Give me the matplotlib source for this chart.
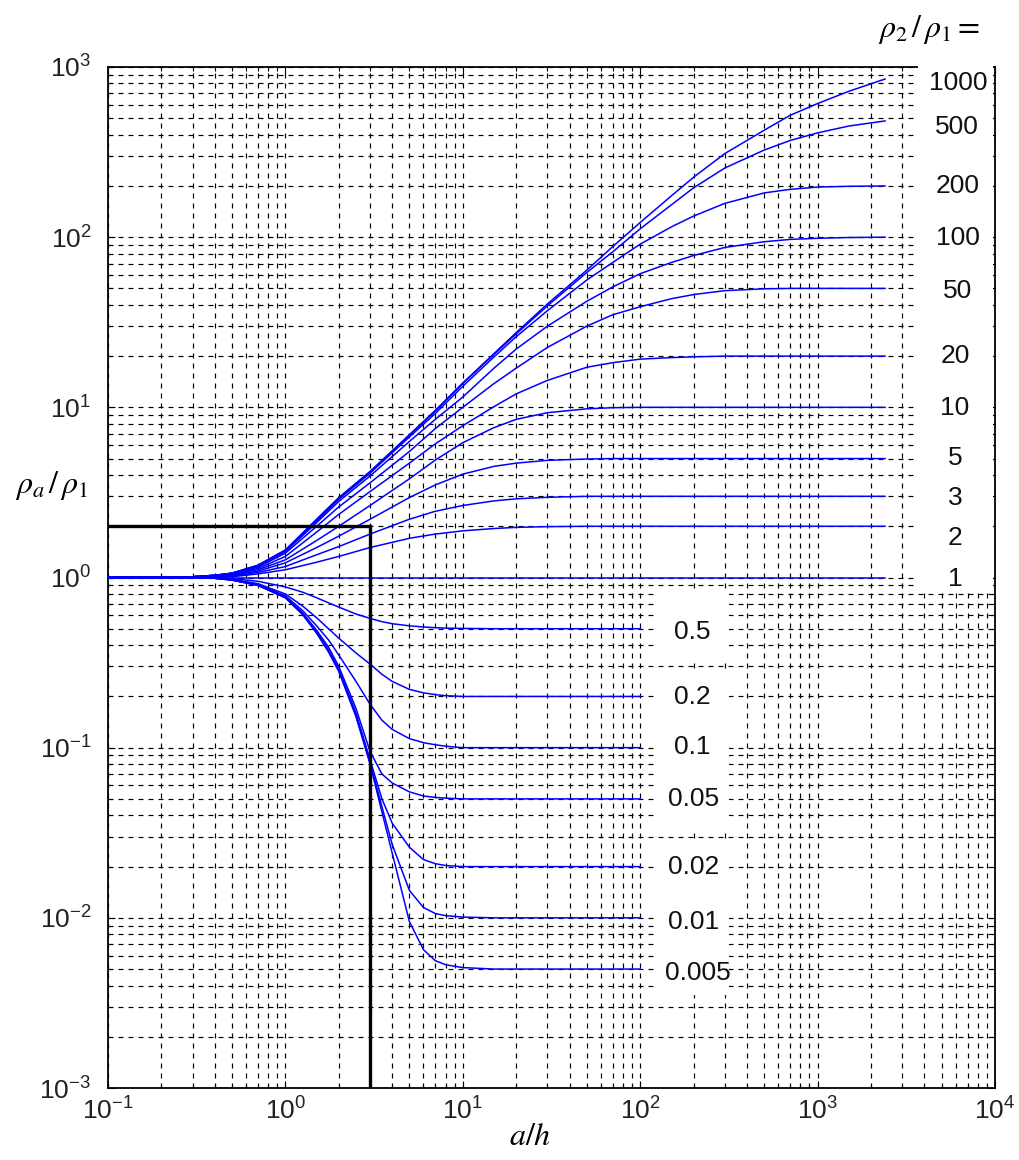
import matplotlib
matplotlib.use("Agg")
import matplotlib.pyplot as plt
from matplotlib.patches import Rectangle
from matplotlib.ticker import FixedLocator, NullFormatter

plt.rcParams['font.family'] = ['Liberation Sans', 'DejaVu Sans']
plt.rcParams['mathtext.fontset'] = 'custom'
plt.rcParams['mathtext.rm'] = 'Liberation Sans'
plt.rcParams['mathtext.it'] = 'Liberation Sans:italic'
plt.rcParams['lines.scale_dashes'] = False

# ---------------- data ----------------
# a/h values for curves with rho2/rho1 >= 1
x_high = [0.1, 0.2, 0.3, 0.4, 0.5, 0.7, 1, 1.5, 2, 3, 5, 7, 10, 15, 20, 30,
          50, 70, 100, 150, 200, 300, 500, 700, 1000, 1500, 2400]
ratios_high = [1000, 500, 200, 100, 50, 20, 10, 5, 3, 2, 1]
rho_1000 = [1, 1, 1.01, 1.03, 1.06, 1.18, 1.45, 2.2, 2.95, 4.2, 6.9, 9.6, 13.9, 20.7, 27.5, 40.5,
            64, 88, 122, 175, 225, 310, 425, 520, 610, 720, 850]
rho_500 = [1, 1, 1.01, 1.03, 1.06, 1.18, 1.45, 2.19, 2.93, 4.17, 6.85, 9.5, 13.8, 20.5, 27, 39.5,
           62, 82, 112, 155, 195, 255, 325, 370, 410, 450, 482]
rho_200 = [1, 1, 1.01, 1.03, 1.06, 1.17, 1.44, 2.15, 2.88, 4.1, 6.7, 9.2, 13.3, 19.8, 26, 37,
           56, 71, 91, 115, 133, 158, 182, 191, 197, 199, 200]
rho_100 = [1, 1, 1.01, 1.03, 1.06, 1.17, 1.42, 2.1, 2.8, 3.95, 6.3, 8.5, 11.5, 17, 22, 30,
           42, 51, 61, 71, 78, 87, 94, 97, 98.5, 99.5, 100]
rho_50 = [1, 1, 1.01, 1.03, 1.05, 1.15, 1.39, 2.0, 2.6, 3.6, 5.5, 7.5, 10, 13.8, 17, 22.5,
          30, 35, 39, 43.5, 46, 48.5, 49.7, 50, 50, 50, 50]
rho_20 = [1, 1, 1.01, 1.02, 1.05, 1.13, 1.33, 1.85, 2.35, 3.2, 4.7, 6.1, 7.8, 10.1, 12, 14.4,
          17.2, 18.3, 19.2, 19.6, 19.8, 20, 20, 20, 20, 20, 20]
rho_10 = [1, 1, 1.01, 1.02, 1.04, 1.11, 1.27, 1.65, 2.0, 2.65, 3.8, 4.9, 6.2, 7.6, 8.5, 9.3,
          9.8, 9.95, 10, 10, 10, 10, 10, 10, 10, 10, 10]
rho_5 = [1, 1, 1.0, 1.02, 1.03, 1.09, 1.22, 1.5, 1.75, 2.2, 2.95, 3.5, 4.05, 4.5, 4.7, 4.88,
         4.97, 5, 5, 5, 5, 5, 5, 5, 5, 5, 5]
rho_3 = [1, 1, 1.0, 1.01, 1.02, 1.07, 1.16, 1.36, 1.52, 1.8, 2.2, 2.45, 2.65, 2.82, 2.9, 2.96,
         3, 3, 3, 3, 3, 3, 3, 3, 3, 3, 3]
rho_2 = [1, 1, 1.0, 1.0, 1.01, 1.05, 1.11, 1.23, 1.33, 1.5, 1.7, 1.8, 1.88, 1.94, 1.97, 1.99,
         2, 2, 2, 2, 2, 2, 2, 2, 2, 2, 2]
rho_1 = [1] * len(x_high)

# a/h values for curves with rho2/rho1 < 1
x_low = [0.1, 0.2, 0.3, 0.4, 0.5, 0.7, 1, 1.25, 1.5, 1.75, 2, 2.5, 3, 3.5, 4, 5, 6, 7, 8,
         10, 15, 20, 100]
ratios_low = [0.5, 0.2, 0.1, 0.05, 0.02, 0.01, 0.005]
rho_0_5 = [1, 1, 1, 0.995, 0.985, 0.95, 0.88, 0.82, 0.76, 0.71, 0.67, 0.61, 0.575, 0.55,
           0.535, 0.52, 0.512, 0.507, 0.504, 0.502, 0.5, 0.5, 0.5]
rho_0_2 = [1, 1, 1, 0.99, 0.975, 0.92, 0.8, 0.68, 0.58, 0.5, 0.44, 0.36, 0.31, 0.27, 0.245,
           0.22, 0.21, 0.205, 0.202, 0.2, 0.2, 0.2, 0.2]
rho_0_1 = [1, 1, 1, 0.99, 0.97, 0.91, 0.78, 0.64, 0.52, 0.43, 0.35, 0.245, 0.18, 0.145, 0.128,
           0.113, 0.107, 0.104, 0.102, 0.1, 0.1, 0.1, 0.1]
rho_0_05 = [1, 1, 1, 0.99, 0.97, 0.905, 0.77, 0.62, 0.49, 0.39, 0.3, 0.17, 0.095, 0.07, 0.062,
            0.055, 0.052, 0.051, 0.0505, 0.05, 0.05, 0.05, 0.05]
rho_0_02 = [1, 1, 1, 0.99, 0.97, 0.9, 0.765, 0.615, 0.48, 0.375, 0.29, 0.16, 0.085, 0.05, 0.036,
            0.026, 0.022, 0.0208, 0.0203, 0.02, 0.02, 0.02, 0.02]
rho_0_01 = [1, 1, 1, 0.99, 0.965, 0.9, 0.76, 0.61, 0.475, 0.37, 0.285, 0.155, 0.082, 0.045,
            0.027, 0.0145, 0.0115, 0.0106, 0.0103, 0.0101, 0.01, 0.01, 0.01]
rho_0_005 = [1, 1, 1, 0.99, 0.965, 0.9, 0.76, 0.605, 0.47, 0.365, 0.28, 0.152, 0.08, 0.042,
             0.024, 0.0095, 0.0065, 0.0056, 0.0053, 0.0051, 0.005, 0.005, 0.005]

# reading example (black guide line)
guide_x = [0.1, 3, 3]
guide_y = [2, 2, 0.001]

x_ticks = [0.1, 1, 10, 100, 1000, 10000]
x_tick_labels = ['$10^{-1}$', '$10^{0}$', '$10^{1}$', '$10^{2}$', '$10^{3}$', '$10^{4}$']
y_ticks = [0.001, 0.01, 0.1, 1, 10, 100, 1000]
y_tick_labels = ['$10^{-3}$', '$10^{-2}$', '$10^{-1}$', '$10^{0}$', '$10^{1}$', '$10^{2}$', '$10^{3}$']

high_curves = [rho_1000, rho_500, rho_200, rho_100, rho_50, rho_20, rho_10,
               rho_5, rho_3, rho_2, rho_1]
low_curves = [rho_0_5, rho_0_2, rho_0_1, rho_0_05, rho_0_02, rho_0_01, rho_0_005]
high_labels = ['1000', '500', '200', '100', '50', '20', '10', '5', '3', '2', '1']
low_labels = ['0.5', '0.2', '0.1', '0.05', '0.02', '0.01', '0.005']

# ---------------- figure ----------------
W, H = 1019, 1160
fig = plt.figure(figsize=(W / 100, H / 100), dpi=100)
L, R, T, B = 108, 995, 67, 1088
ax = fig.add_axes([L / W, 1 - B / H, (R - L) / W, (B - T) / H])
ax.set_xscale('log')
ax.set_yscale('log')
ax.set_xlim(0.1, 1e4)
ax.set_ylim(1e-3, 1e3)
ax.set_axisbelow(True)

minor_x = [m * 10.0 ** e for e in range(-1, 4) for m in range(2, 10)]
minor_y = [m * 10.0 ** e for e in range(-3, 3) for m in range(2, 10)]
ax.xaxis.set_major_locator(FixedLocator(x_ticks))
ax.yaxis.set_major_locator(FixedLocator(y_ticks))
ax.xaxis.set_minor_locator(FixedLocator(minor_x))
ax.yaxis.set_minor_locator(FixedLocator(minor_y))
ax.xaxis.set_minor_formatter(NullFormatter())
ax.yaxis.set_minor_formatter(NullFormatter())
ax.set_xticklabels(x_tick_labels)
ax.set_yticklabels(y_tick_labels)

ax.grid(True, which='both', color='black', linestyle=(0, (3.6, 3.6)), linewidth=0.85)
ax.tick_params(which='both', direction='in', top=True, right=True, color='black')
ax.tick_params(which='major', length=5, width=0.8, labelsize=19, labelcolor='#222222')
ax.tick_params(which='minor', length=3, width=0.8)
ax.tick_params(axis='x', pad=7)
ax.tick_params(axis='y', pad=12)
for sp in ax.spines.values():
    sp.set_linewidth(1.3)
    sp.set_color('black')

for ys in high_curves:
    ax.plot(x_high, ys, color='#0000ff', linewidth=1.1, zorder=3)
for ys in low_curves:
    ax.plot(x_low, ys, color='#0000ff', linewidth=1.1, zorder=3)

ax.plot(guide_x, guide_y, color='black', linewidth=2.4, zorder=6,
        solid_joinstyle='miter')

# white label panels (cover the grid like the original)
def px_rect(x0, y0, x1, y1):
    return Rectangle(((x0 - L) / (R - L), (B - y1) / (B - T)),
                     (x1 - x0) / (R - L), (y1 - y0) / (B - T),
                     transform=ax.transAxes, facecolor='white', edgecolor='none',
                     zorder=4, clip_on=False)

ax.add_patch(px_rect(918, 64, 993, 590))
ax.add_patch(px_rect(655, 592, 729, 661))
ax.add_patch(px_rect(655, 670, 729, 833))
ax.add_patch(px_rect(655, 840, 729, 995))

high_pos = [(958, 83), (957, 127), (958, 186), (958, 238), (958, 291), (955, 356),
            (955, 408), (955, 458), (955, 498), (955, 538), (955, 579)]
for lab, (px, py) in zip(high_labels, high_pos):
    fig.text(px / W, 1 - py / H, lab, fontsize=19, ha='center', va='center',
             color='#111111', zorder=7)

low_pos = [(692, 632), (692, 697), (692, 747), (694, 799), (694, 867), (694, 922), (698, 973)]
for lab, (px, py) in zip(low_labels, low_pos):
    fig.text(px / W, 1 - py / H, lab, fontsize=19, ha='center', va='center',
             color='#111111', zorder=7)

fig.text(52 / W, 1 - 486 / H, r'$\rho_a\,/\,\rho_1$', fontsize=23, ha='center',
         va='center', math_fontfamily='stix')
fig.text(929 / W, 1 - 30 / H, r'$\rho_2\,/\,\rho_1 =$', fontsize=23, ha='center',
         va='center', math_fontfamily='stix')
fig.text(530 / W, 1 - 1137 / H, r'$a/h$', fontsize=23, ha='center', va='center',
         math_fontfamily='stix')

fig.savefig('out.png', dpi=100, facecolor='white')
